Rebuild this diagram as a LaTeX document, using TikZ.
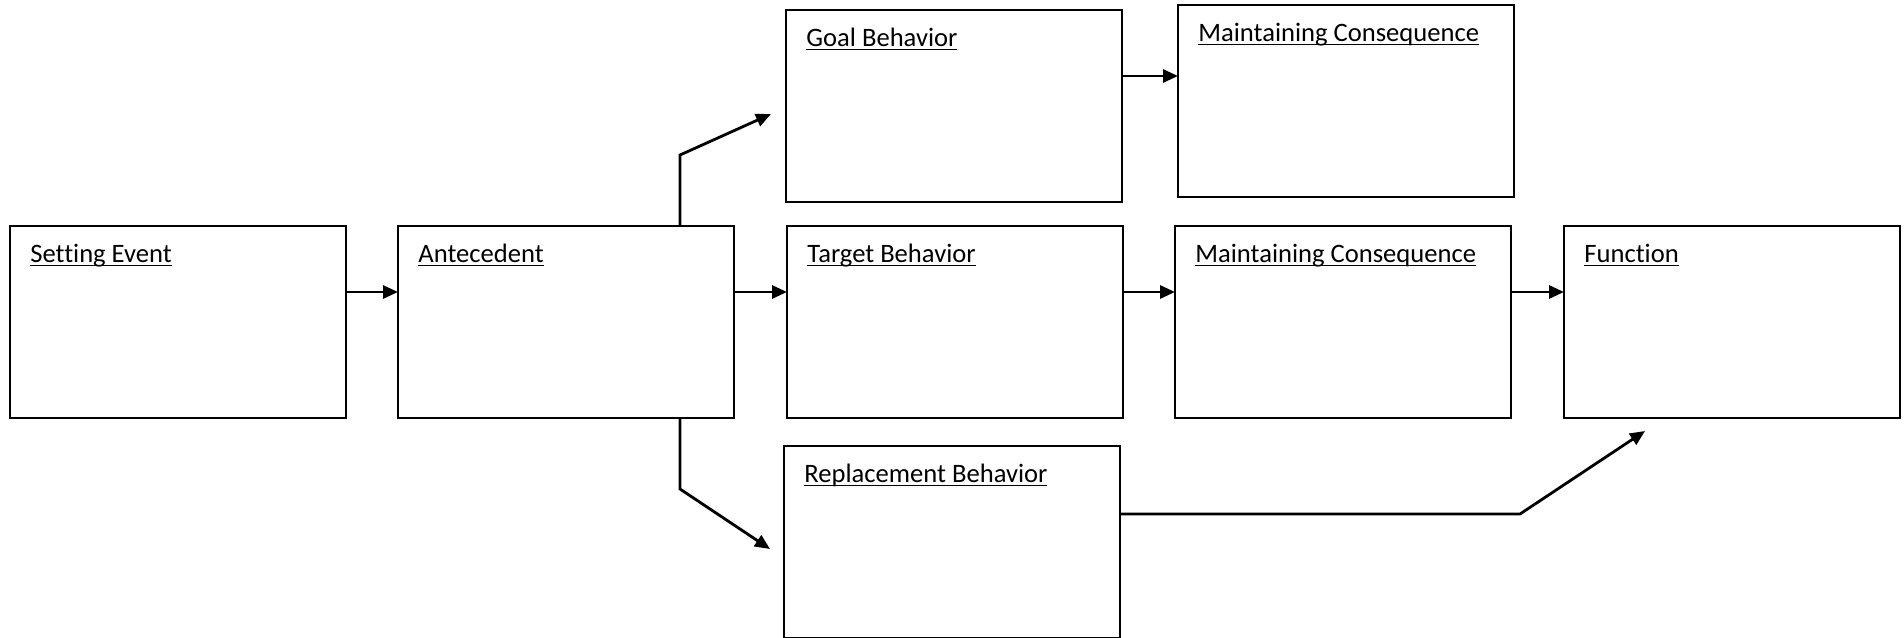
\documentclass[tikz,border=0pt]{standalone}
\usepackage{fontspec}
\setmainfont[Ligatures=NoCommon]{Carlito}
\usetikzlibrary{arrows.meta}

% underline just under the baseline, as in the form
\newcommand\titleline[1]{\setbox0\hbox{#1}\rlap{\rule[-2.2pt]{\wd0}{0.85pt}}\box0}

\tikzset{
  box/.style={draw, line width=0.85pt, rectangle, anchor=north west,
    inner sep=0pt, outer sep=0pt, minimum width=168pt, minimum height=96pt},
  title/.style={anchor=base west, inner sep=0pt,
    font=\fontsize{13.3}{16}\selectfont},
  link/.style={line width=1.4pt, -{Triangle[length=7.5pt,width=6.5pt]}},
}

\begin{document}
\begin{tikzpicture}[x=0.5pt, y=-0.5pt]
  \useasboundingbox (0, 0) rectangle (1904, 637);

  % middle row
  \node [box] (setting) at (10, 226) {};
  \node [box] (antecedent) at (398, 226) {};
  \node [box] (target) at (787, 226) {};
  \node [box] (consequence) at (1175, 226) {};
  \node [box] (function) at (1564, 226) {};

  % upper and lower boxes
  \node [box] (goal) at (786, 10) {};
  \node [box] (goal-consequence) at (1178, 5) {};
  \node [box] (replacement) at (784, 446) {};

  % titles
  \node [title] (setting-title) at ([xshift=10pt, yshift=-18pt]setting.north west) {\titleline{Setting Event}};
  \node [title] (antecedent-title) at ([xshift=10pt, yshift=-18pt]antecedent.north west) {\titleline{Antecedent}};
  \node [title] (target-title) at ([xshift=10pt, yshift=-18pt]target.north west) {\titleline{Target Behavior}};
  \node [title] (consequence-title) at ([xshift=10pt, yshift=-18pt]consequence.north west) {\titleline{Maintaining Consequence}};
  \node [title] (function-title) at ([xshift=10pt, yshift=-18pt]function.north west) {\titleline{Function}};
  \node [title] (goal-title) at ([xshift=10pt, yshift=-18pt]goal.north west) {\titleline{Goal Behavior}};
  \node [title] (goal-consequence-title) at ([xshift=10pt, yshift=-18pt]goal-consequence.north west) {\titleline{Maintaining Consequence}};
  \node [title] (replacement-title) at ([xshift=10pt, yshift=-18pt]replacement.north west) {\titleline{Replacement Behavior}};

  % straight arrows
  \draw [link] ([yshift=15pt]setting.east) -- ([yshift=15pt]antecedent.west);
  \draw [link] ([yshift=15pt]antecedent.east) -- ([yshift=15pt]target.west);
  \draw [link] ([yshift=15pt]target.east) -- ([yshift=15pt]consequence.west);
  \draw [link] ([yshift=15pt]consequence.east) -- ([yshift=15pt]function.west);
  \coordinate (goal-out) at ([yshift=15pt]goal.east);
  \draw [link] (goal-out) -- (goal-out -| goal-consequence.west);

  % bent arrows
  \coordinate (up-bend) at (680, 155);
  \coordinate (goal-in) at (771, 114);
  \draw [link] (antecedent.north -| up-bend) -- (up-bend) -- (goal-in);

  \coordinate (down-bend) at (680, 489);
  \coordinate (replacement-in) at (770, 549);
  \draw [link] (antecedent.south -| down-bend) -- (down-bend) -- (replacement-in);

  \coordinate (replacement-bend) at (1520, 514);
  \coordinate (function-in) at (1645, 431);
  \draw [link] ([yshift=14pt]replacement.east) -- (replacement-bend) -- (function-in);
\end{tikzpicture}
\end{document}
